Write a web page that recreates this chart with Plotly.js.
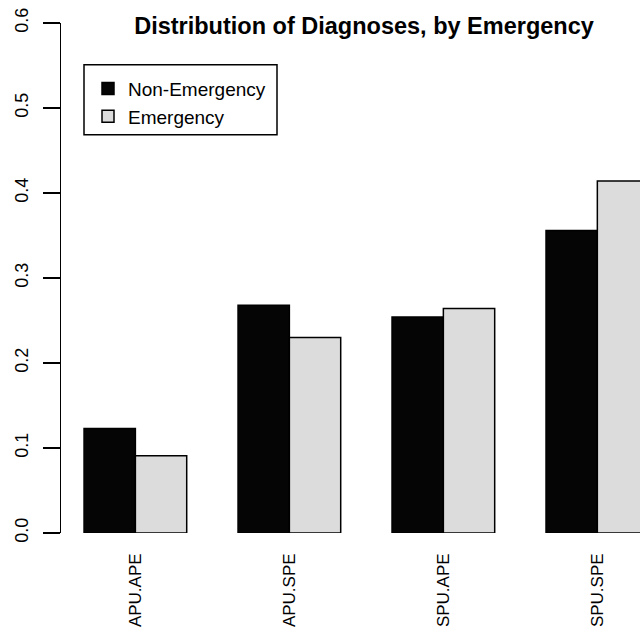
<!DOCTYPE html>
<html>
<head>
<meta charset="utf-8">
<script src="https://cdn.plot.ly/plotly-3.0.1.min.js"></script>
<style>html,body{margin:0;padding:0;background:#fff;}#chart{width:640px;height:630px;}</style>
</head>
<body>
<div id="chart"></div>
<script>
const categories = ['APU.APE', 'APU.SPE', 'SPU.APE', 'SPU.SPE'];
const nonEmergency = [0.123, 0.268, 0.254, 0.356];
const emergency = [0.091, 0.230, 0.264, 0.414];
const seriesNames = ['Non-Emergency', 'Emergency'];
const yTicks = [0, 0.1, 0.2, 0.3, 0.4, 0.5, 0.6];

const font = 'Liberation Sans, Arial, Helvetica, sans-serif';

// plot area in pixels (for converting legend box positions to paper coords)
const PL = 61, PR = 640, PT = 23.3, PB = 533.3;
const px = v => (v - PL) / (PR - PL);
const py = v => (PB - v) / (PB - PT);

const traces = [
  {
    type: 'bar', name: seriesNames[0], x: categories, y: nonEmergency,
    marker: {color: '#050505', line: {color: '#000', width: 1.5}}
  },
  {
    type: 'bar', name: seriesNames[1], x: categories, y: emergency,
    marker: {color: '#dcdcdc', line: {color: '#000', width: 1.5}}
  }
];

const layout = {
  width: 640, height: 630,
  margin: {l: 61, r: 0, t: 23, b: 97, pad: 0},
  paper_bgcolor: '#fff', plot_bgcolor: '#fff',
  font: {family: font, color: '#000', size: 18},
  barmode: 'group', bargap: 1/3, bargroupgap: 0,
  showlegend: true,
  title: {
    text: '<b>Distribution of Diagnoses, by Emergency</b>',
    font: {family: font, size: 23.5, color: '#000'},
    xref: 'container', x: 364/640, xanchor: 'center',
    yref: 'container', y: 1 - 26/630, yanchor: 'middle'
  },
  xaxis: {
    type: 'category', range: [-0.483, 3.277],
    showline: false, showgrid: false, zeroline: false,
    ticks: '', tickangle: -90, ticklabelstandoff: 16,
    tickfont: {family: font, size: 17, color: '#000'}
  },
  yaxis: {
    range: [0, 0.6], tickvals: yTicks, tickformat: '.1f',
    showline: true, linecolor: '#000', linewidth: 1.5,
    ticks: 'outside', ticklen: 17, tickwidth: 1.5, tickcolor: '#000',
    showgrid: false, zeroline: false, tickangle: -90, ticklabelstandoff: 7,
    tickfont: {family: font, size: 18, color: '#000'}
  },
  shapes: [
    {
      type: 'rect', xref: 'paper', yref: 'paper',
      x0: px(84), x1: px(277), y0: py(135), y1: py(65),
      line: {color: '#000', width: 1.5}, fillcolor: '#fff', layer: 'above'
    }
  ],
  legend: {
    x: px(88), y: py(70), xanchor: 'left', yanchor: 'top',
    bgcolor: 'rgba(0,0,0,0)', borderwidth: 0,
    font: {family: font, size: 19, color: '#000'},
    traceorder: 'normal'
  }
};

Plotly.newPlot('chart', traces, layout, {displayModeBar: false, staticPlot: true});
</script>
</body>
</html>
